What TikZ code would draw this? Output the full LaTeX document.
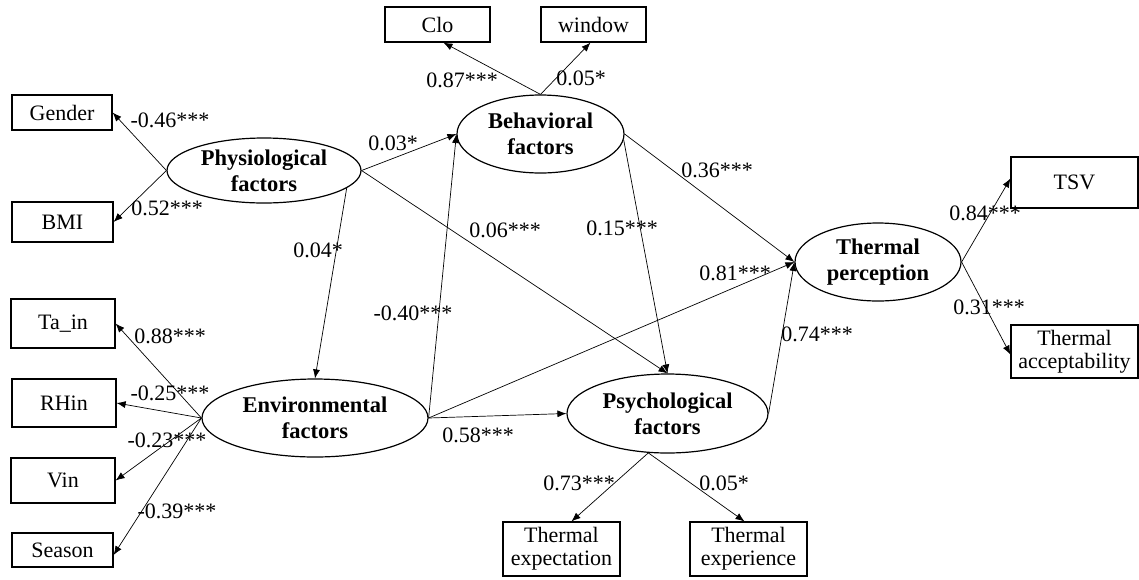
\documentclass[tikz,border=0pt]{standalone}
\usepackage{fontspec}
\setmainfont{Liberation Serif}
\usetikzlibrary{shapes.geometric,arrows.meta}
\begin{document}
\begin{tikzpicture}[x=1pt,y=-1pt,
  obs/.style={draw,line width=1.2pt,rectangle,inner sep=0pt,align=center,
    font=\fontsize{22}{23}\selectfont},
  lat/.style={draw,line width=1.2pt,ellipse,inner sep=0pt,align=center,
    font=\fontsize{22.5}{26}\selectfont\bfseries},
  path/.style={line width=0.7pt,-{Latex[length=9pt,width=7pt]}},
  coef/.style={inner sep=0pt,font=\fontsize{22}{23}\selectfont}]
\useasboundingbox[fill=white] (0,0) rectangle (1139,579);

% observed indicators
\node[obs,minimum width=100,minimum height=35] (gender) at (62,112.5) {Gender};
\node[obs,minimum width=101,minimum height=40] (bmi) at (62.5,222) {BMI};
\node[obs,minimum width=105,minimum height=35] (clo) at (437.5,24.5) {Clo};
\node[obs,minimum width=105,minimum height=35] (window) at (593.5,24.5) {window};
\node[obs,minimum width=104,minimum height=49] (tain) at (63,323.5) {Ta\_in};
\node[obs,minimum width=104,minimum height=48] (rhin) at (64,403) {RHin};
\node[obs,minimum width=104,minimum height=45] (vin) at (63,480.5) {Vin};
\node[obs,minimum width=101,minimum height=34] (season) at (62.5,550) {Season};
\node[obs,minimum width=127,minimum height=51] (tsv) at (1074.5,182.5) {TSV};
\node[obs,minimum width=127,minimum height=53] (tacc) at (1074.5,351.5) {Thermal\\acceptability};
\node[obs,minimum width=117,minimum height=54] (texpt) at (561.5,549) {Thermal\\expectation};
\node[obs,minimum width=117,minimum height=54] (texpr) at (748.5,549) {Thermal\\experience};

% latent factors
\node[lat,minimum width=194,minimum height=65] (phys) at (264,170.5) {Physiological\\factors};
\node[lat,minimum width=167,minimum height=78] (beh) at (540.5,134) {Behavioral\\factors};
\node[lat,minimum width=226,minimum height=78] (env) at (315,418) {Environmental\\factors};
\node[lat,minimum width=201,minimum height=79] (psy) at (667.5,413.5) {Psychological\\factors};
\node[lat,minimum width=166,minimum height=78] (tp) at (878,262) {Thermal\\perception};

% measurement paths
\draw[path] (phys.west) -- (gender.east);
\draw[path] (phys.west) -- (bmi.east);
\draw[path] (beh.north) -- ([xshift=6pt]clo.south);
\draw[path] (beh.north) -- ([xshift=-3pt]window.south);
\draw[path] (env.west) -- (tain.east);
\draw[path] (env.west) -- (rhin.east);
\draw[path] (env.west) -- (vin.east);
\draw[path] (env.west) -- ([yshift=-5pt]season.east);
\draw[path] (tp.east) -- ([yshift=4pt]tsv.west);
\draw[path] (tp.east) -- ([yshift=-3pt]tacc.west);
\draw[path] (psy.244) -- ([xshift=10pt]texpt.north);
\draw[path] (psy.244) -- ([xshift=-4pt]texpr.north);

% structural paths
\draw[path] (phys.east) -- (beh.west);
\draw[path] (phys.east) -- (psy.north);
\draw[path] (phys.-12) -- (env.north);
\draw[path] (env.east) -- (beh.west);
\draw[path] (env.east) -- (psy.west);
\draw[path] (env.east) -- (tp.west);
\draw[path] (beh.-4) -- (psy.north);
\draw[path] (beh.east) -- (tp.west);
\draw[path] (psy.east) -- (tp.west);

% path coefficients
\node[coef] (c1) at (170,120) {-0.46***};
\node[coef] (c2) at (167,208) {0.52***};
\node[coef] (c3) at (318,250) {0.04*};
\node[coef] (c4) at (393,143) {0.03*};
\node[coef] (c5) at (462,80) {0.87***};
\node[coef] (c6) at (581,78) {0.05*};
\node[coef] (c7) at (505,230) {0.06***};
\node[coef] (c8) at (622,228) {0.15***};
\node[coef] (c9) at (717,170) {0.36***};
\node[coef] (c10) at (735,273) {0.81***};
\node[coef] (c11) at (985,213) {0.84***};
\node[coef] (c12) at (989,307) {0.31***};
\node[coef] (c13) at (817,334) {0.74***};
\node[coef] (c14) at (170,336) {0.88***};
\node[coef] (c15) at (170,393) {-0.25***};
\node[coef] (c16) at (167,440) {-0.23***};
\node[coef] (c17) at (177,511) {-0.39***};
\node[coef] (c18) at (413,313) {-0.40***};
\node[coef] (c19) at (478,435) {0.58***};
\node[coef] (c20) at (579,483) {0.73***};
\node[coef] (c21) at (724,483) {0.05*};
\end{tikzpicture}
\end{document}
